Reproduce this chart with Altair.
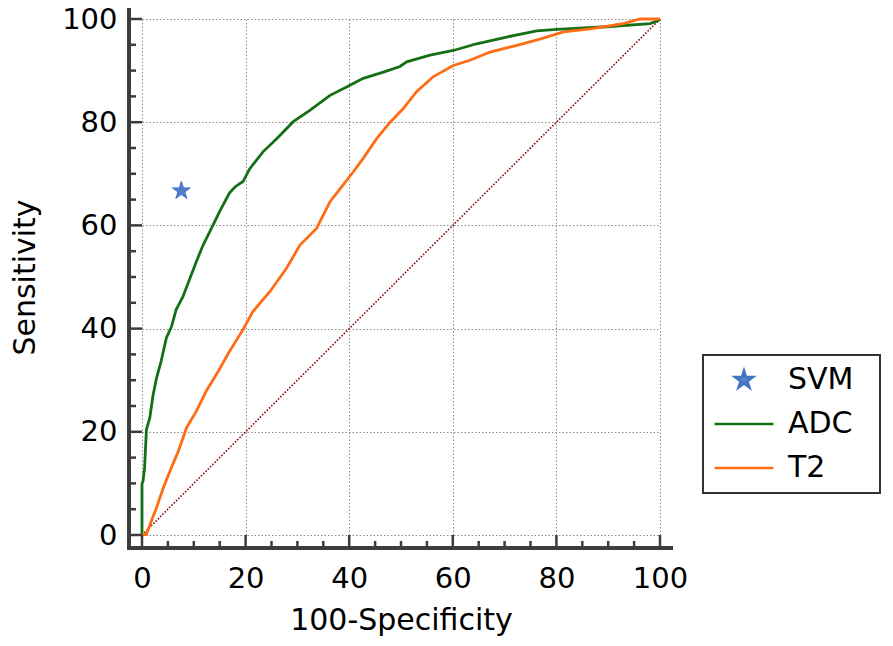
import altair as alt
import pandas as pd

# ---------------- data ----------------
ADC_X = [0, 0, 0.2, 0.5, 0.85, 1.5, 2.1, 2.8, 3.7, 4.7, 5.7, 6.6, 7.9, 9.1, 10.5, 11.8, 13.4,
         15.0, 16.9, 18.0, 19.5, 20.8, 23.4, 26.0, 29.2, 32.4, 36.3, 39.5, 42.7, 46.6, 49.8,
         51.1, 55.6, 60.1, 64.6, 70.4, 76.2, 80.1, 89.7, 98.1, 99.7, 100]
ADC_Y = [0, 9.9, 10.5, 13.0, 20.4, 22.7, 26.9, 30.4, 33.7, 38.2, 40.4, 43.7, 46.2, 49.3, 53.0,
         56.2, 59.4, 62.7, 66.3, 67.5, 68.5, 71.0, 74.3, 76.8, 80.1, 82.3, 85.2, 86.8, 88.5,
         89.7, 90.8, 91.7, 93.0, 93.9, 95.2, 96.5, 97.7, 98.0, 98.5, 99.1, 99.7, 100]

T2_X = [0, 0.85, 1.8, 2.8, 4.1, 5.4, 7.0, 8.6, 10.5, 12.4, 14.7, 16.9, 19.5, 21.4, 24.7, 27.9,
        30.5, 33.7, 36.3, 38.8, 40.8, 42.7, 45.3, 47.9, 50.4, 53.0, 56.2, 60.1, 63.3, 67.2,
        72.4, 76.8, 81.4, 86.5, 92.9, 96.2, 100]
T2_Y = [0, 0.1, 2.7, 5.3, 9.1, 12.4, 16.2, 20.8, 24.0, 27.9, 31.7, 35.6, 39.8, 43.3, 47.2, 51.7,
        56.2, 59.4, 64.6, 67.8, 70.4, 73.0, 76.8, 80.0, 82.6, 85.9, 88.8, 91.0, 92.0, 93.6,
        94.9, 96.1, 97.5, 98.1, 99.1, 100, 100]

SVM_X = [7.6]
SVM_Y = [66.7]

DIAG_X = [0, 100]
DIAG_Y = [0, 100]

SERIES = ["SVM", "ADC", "T2"]
TICKS_MAJOR = [0, 20, 40, 60, 80, 100]
TICKS_MINOR = [5, 10, 15, 25, 30, 35, 45, 50, 55, 65, 70, 75, 85, 90, 95]
X_TITLE = "100-Specificity"
Y_TITLE = "Sensitivity"

# ---------------- styles ----------------
FILL = {"SVM": "#4f80cf", "ADC": "#157015", "T2": "#ff6c14"}
STROKE = {"SVM": "#4474c4", "ADC": "#157015", "T2": "#ff6c14"}
STAR = ("M0,-0.32L0.0718,-0.0989L0.3043,-0.0989L0.1162,0.0378L0.1882,0.2589L0,0.1222"
        "L-0.1882,0.2589L-0.1162,0.0378L-0.3043,-0.0989L-0.0718,-0.0989Z")
FONT = "DejaVu Sans"
AXIS_COLOR = "#3c3c3c"
W = 518
H = 516
OFF = 13
SYM = 3481  # symbol area -> 59 px legend line

xs = alt.Scale(domain=[0, 100], nice=False, zero=False)
ys = alt.Scale(domain=[0, 100], nice=False, zero=False)

x_axis = alt.Axis(values=TICKS_MAJOR, title=X_TITLE, grid=True, domain=False, ticks=False,
                  tickSize=0, offset=OFF, labelPadding=16, titlePadding=12,
                  labelFont=FONT, labelFontSize=29, labelColor="#000",
                  titleFont=FONT, titleFontSize=30, titleFontWeight="normal", titleColor="#000",
                  gridDash=[1.5, 2], gridColor="#8c8c8c", gridWidth=1, labelFlush=False)
y_axis = alt.Axis(values=TICKS_MAJOR, title=Y_TITLE, grid=True, domain=False, ticks=False,
                  tickSize=0, offset=OFF, labelPadding=12, titlePadding=21,
                  labelFont=FONT, labelFontSize=29, labelColor="#000",
                  titleFont=FONT, titleFontSize=30, titleFontWeight="normal", titleColor="#000",
                  gridDash=[1.5, 2], gridColor="#8c8c8c", gridWidth=1, labelFlush=False)

X = alt.X("x:Q", scale=xs, axis=x_axis)
Y = alt.Y("y:Q", scale=ys, axis=y_axis)


def curve(xv, yv):
    return pd.DataFrame({"x": xv, "y": yv, "i": list(range(len(xv)))})


diag = alt.Chart(curve(DIAG_X, DIAG_Y)).mark_line(
    color="#8b0d0d", strokeWidth=1.6, strokeDash=[1.6, 1.6]
).encode(x=X, y=Y, order="i:Q")

adc = alt.Chart(curve(ADC_X, ADC_Y)).mark_line(
    color=FILL["ADC"], strokeWidth=2.8
).encode(x=X, y=Y, order="i:Q")

t2 = alt.Chart(curve(T2_X, T2_Y)).mark_line(
    color=FILL["T2"], strokeWidth=2.8
).encode(x=X, y=Y, order="i:Q")

NB = "\u00a0"
leg = dict(orient="none", legendX=561, legendY=336, title=NB, titleOrient="right",
           titlePadding=17, titleFontSize=30, titleFont=FONT, clipHeight=30)
svm = alt.Chart(pd.DataFrame({"x": SVM_X, "y": SVM_Y, "series": ["SVM"]})).mark_point(
    filled=True, size=SYM, strokeWidth=1, opacity=1
).encode(
    x=X, y=Y,
    color=alt.Color("series:N", scale=alt.Scale(domain=SERIES, range=[FILL[s] for s in SERIES]),
                    legend=alt.Legend(**leg)),
    stroke=alt.Stroke("series:N", scale=alt.Scale(domain=SERIES, range=[STROKE[s] for s in SERIES]),
                      legend=alt.Legend(**leg)),
    shape=alt.Shape("series:N", scale=alt.Scale(domain=SERIES, range=[STAR, "stroke", "stroke"]),
                    legend=alt.Legend(**leg)),
)

# axis ticks (inward) and frame lines
xmaj = pd.DataFrame({"x": TICKS_MAJOR})
xmin = pd.DataFrame({"x": TICKS_MINOR})
ymaj = pd.DataFrame({"y": TICKS_MAJOR})
ymin = pd.DataFrame({"y": TICKS_MINOR})
tick_style = dict(color=AXIS_COLOR, strokeWidth=2.5)

xt_major = alt.Chart(xmaj).mark_rule(**tick_style).encode(
    x=X, y=alt.value(H + OFF), y2=alt.value(H))
xt_minor = alt.Chart(xmin).mark_rule(**tick_style).encode(
    x=X, y=alt.value(H + OFF), y2=alt.value(H + OFF - 7))
yt_major = alt.Chart(ymaj).mark_rule(**tick_style).encode(
    y=Y, x=alt.value(-OFF), x2=alt.value(0))
yt_minor = alt.Chart(ymin).mark_rule(**tick_style).encode(
    y=Y, x=alt.value(-OFF), x2=alt.value(-OFF + 7))

frame_x = alt.Chart(xmaj).mark_rule(color=AXIS_COLOR, strokeWidth=3).encode(
    x=alt.value(-OFF - 1.5), x2=alt.value(W + OFF), y=alt.value(H + OFF))
frame_y = alt.Chart(xmaj).mark_rule(color=AXIS_COLOR, strokeWidth=3).encode(
    x=alt.value(-OFF), y=alt.value(-12), y2=alt.value(H + OFF + 1.5))

chart = alt.layer(
    diag, adc, t2, svm, xt_major, xt_minor, yt_major, yt_minor, frame_x, frame_y
).properties(
    width=W, height=H,
    autosize=alt.AutoSizeParams(type="none"),
    padding={"left": 134, "top": 11, "right": 225, "bottom": 103},
).configure_view(stroke=None).configure_legend(
    strokeColor="#333333", strokeWidth=2, padding=10, labelFont=FONT, labelFontSize=30,
    labelColor="#000", symbolSize=SYM, symbolStrokeWidth=2.5, rowPadding=14, labelOffset=13,
)

chart.save("out.html", embed_options={"renderer": "svg", "actions": False})
